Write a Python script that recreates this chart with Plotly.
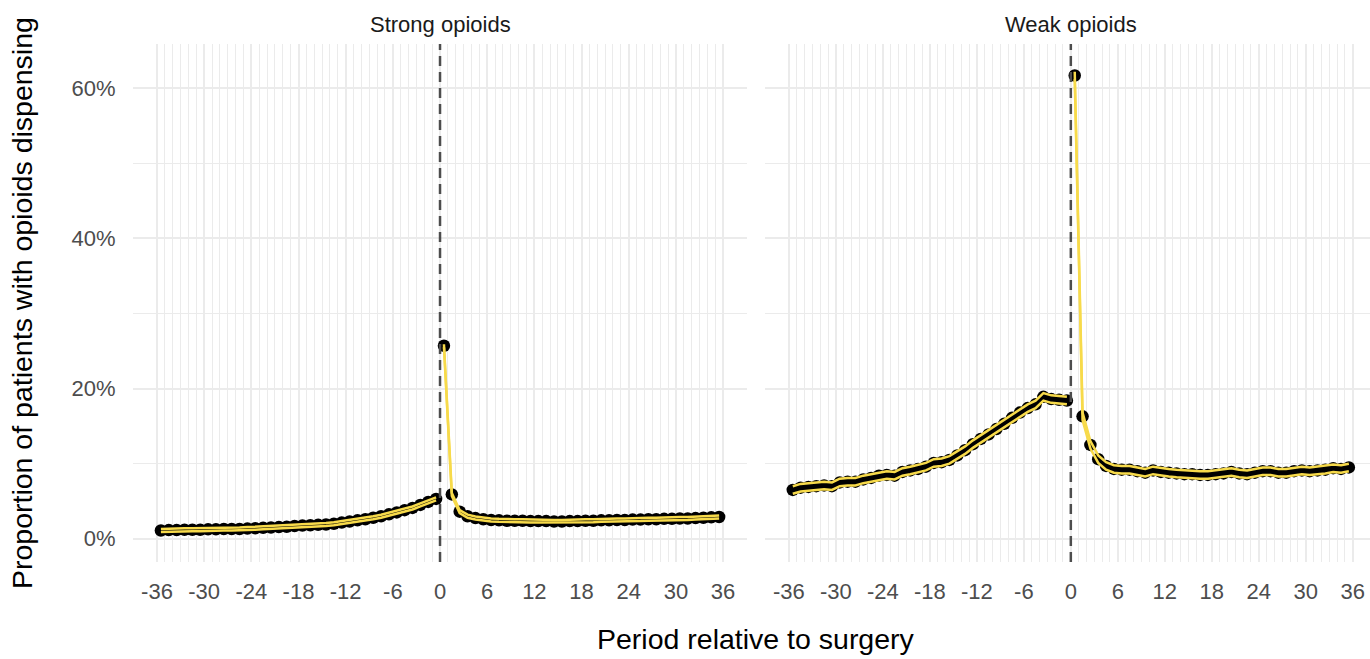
import plotly.graph_objects as go

# ---- data (proportion of patients, %) ----
pre_months = [-35.5 + i for i in range(36)]
post_months = [0.5 + i for i in range(36)]

strong_pre = [1.1, 1.15, 1.15, 1.2, 1.2, 1.2, 1.25, 1.25, 1.3, 1.3, 1.3, 1.35,
              1.4, 1.45, 1.5, 1.55, 1.6, 1.7, 1.75, 1.8, 1.85, 1.9, 2.0, 2.15,
              2.3, 2.45, 2.6, 2.8, 3.0, 3.25, 3.5, 3.8, 4.1, 4.5, 4.9, 5.3]
strong_post = [25.7, 5.9, 3.6, 3.0, 2.75, 2.6, 2.5, 2.45, 2.4, 2.4, 2.4, 2.35,
               2.35, 2.35, 2.3, 2.3, 2.35, 2.35, 2.4, 2.4, 2.45, 2.45, 2.5, 2.5,
               2.55, 2.55, 2.6, 2.6, 2.65, 2.65, 2.7, 2.7, 2.75, 2.8, 2.85, 2.9]
weak_pre = [6.5, 6.8, 6.9, 7.0, 7.1, 7.0, 7.5, 7.6, 7.6, 7.9, 8.1, 8.4,
            8.5, 8.4, 8.9, 9.1, 9.3, 9.6, 10.1, 10.2, 10.5, 11.1, 11.8, 12.6,
            13.3, 13.9, 14.6, 15.3, 16.1, 16.8, 17.4, 17.9, 18.9, 18.6, 18.5, 18.4]
weak_post = [61.7, 16.3, 12.5, 10.6, 9.7, 9.3, 9.2, 9.2, 9.0, 8.8, 9.1, 8.9,
             8.8, 8.7, 8.6, 8.6, 8.5, 8.5, 8.6, 8.7, 8.9, 8.7, 8.6, 8.8,
             9.0, 9.0, 8.8, 8.8, 9.0, 9.1, 9.0, 9.1, 9.2, 9.4, 9.3, 9.5]
# estimated half-width of the confidence band (%)
strong_ci_half = 0.2
weak_ci_half = 0.5

panel_titles = ["Strong opioids", "Weak opioids"]
x_ticks = list(range(-36, 37, 6))
y_ticks = [0, 20, 40, 60]
y_labels = ["0%", "20%", "40%", "60%"]

FONT = "Liberation Sans, Arial, sans-serif"
YELLOW = "#F7DA4A"
GRID = "#EBEBEB"

fig = go.Figure()

panels = [
    ("x", "y", strong_pre, strong_post, strong_ci_half),
    ("x2", "y2", weak_pre, weak_post, weak_ci_half),
]
for xa, ya, pre, post, ci in panels:
    for xs, ys in ((pre_months, pre), (post_months, post)):
        fig.add_trace(go.Scatter(x=xs, y=ys, mode="markers", xaxis=xa, yaxis=ya,
                                 marker=dict(color="black", size=12.5),
                                 showlegend=False, hoverinfo="skip"))
    for xs, ys in ((pre_months, pre), (post_months, post)):
        for sign in (-1, 1):
            fig.add_trace(go.Scatter(x=xs, y=[v + sign * ci for v in ys], mode="lines",
                                     xaxis=xa, yaxis=ya,
                                     line=dict(color=YELLOW, width=2.5),
                                     showlegend=False, hoverinfo="skip"))

xcommon = dict(
    tickmode="array", tickvals=x_ticks, ticktext=[str(t) for t in x_ticks],
    showgrid=True, gridcolor=GRID, gridwidth=1.6,
    minor=dict(tickmode="array", tickvals=list(range(-36, 37)), showgrid=True,
               gridcolor=GRID, gridwidth=1.2),
    zeroline=False, showline=False,
    ticks="outside", ticklen=10, tickcolor="rgba(0,0,0,0)",
    tickfont=dict(family=FONT, size=22, color="#4D4D4D"),
)
ycommon = dict(
    range=[-3.1, 65.9], tickmode="array", tickvals=y_ticks, ticktext=y_labels,
    showgrid=True, gridcolor=GRID, gridwidth=2,
    minor=dict(tickmode="array", tickvals=[10, 30, 50], showgrid=True,
               gridcolor=GRID, gridwidth=1.2),
    zeroline=False, showline=False,
    ticks="outside", ticklen=12, tickcolor="rgba(0,0,0,0)",
    tickfont=dict(family=FONT, size=22, color="#4D4D4D"),
)

fig.update_layout(
    width=1370, height=659,
    margin=dict(l=133, r=0, t=44, b=97),
    paper_bgcolor="white", plot_bgcolor="white",
    font=dict(family=FONT),
    xaxis=dict(domain=[0, 0.4964], range=[-39.05, 39.05], **xcommon),
    xaxis2=dict(domain=[0.5109, 1], range=[-39.05, 38.2], **xcommon),
    yaxis=dict(anchor="x", **ycommon),
    yaxis2=dict(anchor="x2", matches="y", showticklabels=False, **{k: v for k, v in ycommon.items() if k not in ("tickfont",)}),
)

for xa, ya in (("x", "y"), ("x2", "y2")):
    fig.add_shape(type="line", xref=xa, yref=ya + " domain", x0=0, x1=0, y0=0, y1=1,
                  line=dict(color="#4D4D4D", width=2.5, dash="10px,6px"), layer="above")

for xa, title in (("x", panel_titles[0]), ("x2", panel_titles[1])):
    fig.add_annotation(text=title, xref=xa, yref="paper", x=0, y=1.0386,
                       xanchor="center", yanchor="middle",
                       showarrow=False, font=dict(family=FONT, size=22, color="#1A1A1A"))
fig.add_annotation(text="Proportion of patients with opioids dispensing", xref="paper", yref="paper",
                   x=-0.0897, y=0.5, textangle=-90, showarrow=False,
                   xanchor="center", yanchor="middle",
                   font=dict(family=FONT, size=28.5, color="black"))
fig.add_annotation(text="Period relative to surgery", xref="paper", yref="paper",
                   x=0.5036, y=-0.149, showarrow=False, xanchor="center", yanchor="middle",
                   font=dict(family=FONT, size=28.5, color="black"))

fig.write_html("out.html", config={"displayModeBar": False},
               post_script="document.body.style.margin='0';document.body.style.overflow='hidden';")
